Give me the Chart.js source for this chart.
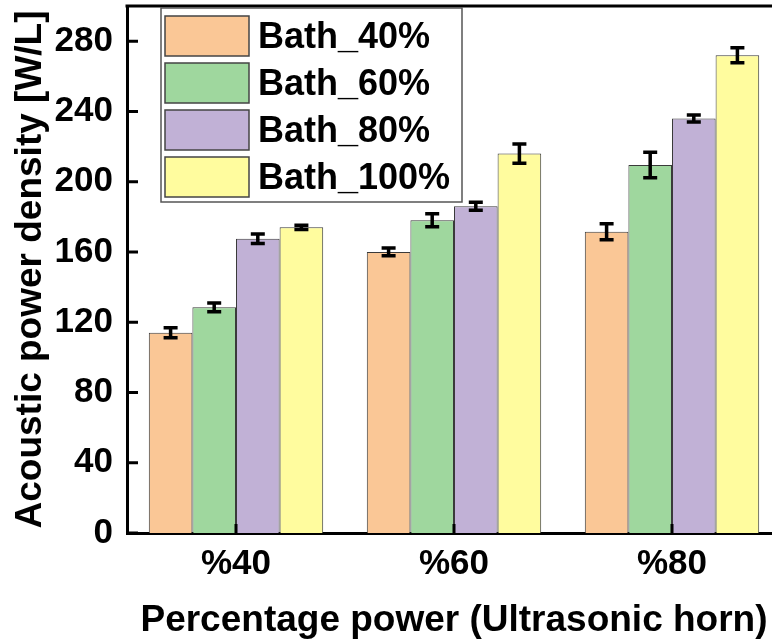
<!DOCTYPE html>
<html>
<head>
<meta charset="utf-8">
<script src="https://cdn.jsdelivr.net/npm/chart.js@4/dist/chart.umd.min.js"></script>
<style>
  html, body { margin: 0; padding: 0; background: #fff; overflow: hidden; }
  #wrap { width: 790px; height: 644px; position: relative; }
</style>
</head>
<body>
<div id="wrap"><canvas id="powerChart"></canvas></div>
<script>
// values
const categories   = ["%40", "%60", "%80"];
const seriesLabels = ["Bath_40%", "Bath_60%", "Bath_80%", "Bath_100%"];
const bath40  = [114, 160, 171.5];
const bath60  = [128.5, 178, 209.5];
const bath80  = [167.5, 186, 236];
const bath100 = [174, 216, 272];
const err40   = [2.8, 2.2, 4.5];
const err60   = [2.5, 3.7, 7.3];
const err80   = [2.7, 2.3, 2.0];
const err100  = [1.2, 5.5, 4.3];
const yTicks  = [0, 40, 80, 120, 160, 200, 240, 280];

const fills   = ["#FAC796", "#9FD79E", "#C1B1D6", "#FFFC9E"];
const FONT    = "'Liberation Sans', Arial, sans-serif";

const seriesValues = [bath40, bath60, bath80, bath100];
const seriesErrors = [err40, err60, err80, err100];

// error bars: black I-beams centred on each bar top
const errorBarPlugin = {
  id: "errorBars",
  afterDatasetsDraw(chart) {
    const ctx = chart.ctx;
    const y = chart.scales.y;
    ctx.save();
    ctx.strokeStyle = "#000";
    ctx.lineWidth = 3.5;
    chart.data.datasets.forEach((ds, i) => {
      const meta = chart.getDatasetMeta(i);
      meta.data.forEach((bar, j) => {
        const v = ds.data[j], e = seriesErrors[i][j];
        const yHi = y.getPixelForValue(v + e);
        const yLo = y.getPixelForValue(v - e);
        const cap = 7;
        ctx.beginPath();
        ctx.moveTo(bar.x, yHi); ctx.lineTo(bar.x, yLo);
        ctx.moveTo(bar.x - cap, yHi); ctx.lineTo(bar.x + cap, yHi);
        ctx.moveTo(bar.x - cap, yLo); ctx.lineTo(bar.x + cap, yLo);
        ctx.stroke();
      });
    });
    ctx.restore();
  }
};

// frame, inward ticks and boxed legend in the upper left of the plot
const framePlugin = {
  id: "frame",
  afterDraw(chart) {
    const ctx = chart.ctx;
    const { left, right, top, bottom } = chart.chartArea;
    const x = chart.scales.x, y = chart.scales.y;
    ctx.save();
    ctx.strokeStyle = "#000";
    ctx.lineWidth = 3;
    ctx.beginPath();
    ctx.moveTo(left - 1.5, top); ctx.lineTo(right, top);
    ctx.moveTo(right, top); ctx.lineTo(right, bottom);
    ctx.stroke();

    ctx.beginPath();
    y.ticks.forEach(t => {
      const py = y.getPixelForValue(t.value);
      ctx.moveTo(left, py); ctx.lineTo(left + 11, py);
    });
    x.ticks.forEach((t, i) => {
      const px = x.getPixelForTick(i);
      ctx.moveTo(px, bottom); ctx.lineTo(px, bottom - 9);
    });
    ctx.stroke();

    // legend
    const bx = left + 34, by = top + 2, bw = 301, bh = 194;
    ctx.lineWidth = 1.5;
    ctx.strokeStyle = "#555";
    ctx.fillStyle = "#fff";
    ctx.fillRect(bx, by, bw, bh);
    ctx.strokeRect(bx, by, bw, bh);
    ctx.font = "bold 36px " + FONT;
    ctx.textBaseline = "middle";
    chart.data.datasets.forEach((ds, i) => {
      const sy = by + 8 + i * 47;
      ctx.fillStyle = ds.backgroundColor;
      ctx.fillRect(bx + 4, sy, 84, 40);
      ctx.strokeStyle = "#444";
      ctx.lineWidth = 1.5;
      ctx.strokeRect(bx + 4, sy, 84, 40);
      ctx.fillStyle = "#000";
      ctx.fillText(ds.label, bx + 97, sy + 22);
    });
    ctx.restore();
  }
};

new Chart(document.getElementById("powerChart"), {
  type: "bar",
  data: {
    labels: categories,
    datasets: seriesLabels.map((label, i) => ({
      label,
      data: seriesValues[i],
      backgroundColor: fills[i],
      borderColor: "#3a3a3a",
      borderWidth: 1,
      categoryPercentage: 0.8,
      barPercentage: 1.0
    }))
  },
  options: {
    responsive: true,
    maintainAspectRatio: false,
    animation: false,
    layout: { padding: { top: 6, right: 9, bottom: 0, left: 0 } },
    plugins: { legend: { display: false }, tooltip: { enabled: false } },
    scales: {
      x: {
        grid: { display: false, drawTicks: false },
        border: { display: true, color: "#000", width: 3 },
        ticks: { color: "#000", padding: 10, font: { family: FONT, size: 35, weight: "bold" } },
        title: {
          display: true,
          text: "Percentage power (Ultrasonic horn)",
          color: "#000",
          padding: { top: 0, bottom: 1 },
          font: { family: FONT, size: 37, weight: "bold" }
        },
        afterFit(scale) { scale.height = 111; scale.paddingLeft = 0; scale.paddingRight = 0; }
      },
      y: {
        min: 0,
        max: 300,
        grid: { display: false, drawTicks: false },
        border: { display: true, color: "#000", width: 3 },
        ticks: { color: "#000", padding: 14, font: { family: FONT, size: 35, weight: "bold" } },
        afterBuildTicks(scale) { scale.ticks = yTicks.map(v => ({ value: v })); },
        title: {
          display: true,
          text: "Acoustic power density [W/L]",
          color: "#000",
          padding: { top: 9, bottom: 0 },
          font: { family: FONT, size: 37, weight: "bold" }
        },
        afterFit(scale) { scale.width = 127; scale.paddingTop = 0; scale.paddingBottom = 0; }
      }
    }
  },
  plugins: [errorBarPlugin, framePlugin]
});
</script>
</body>
</html>
